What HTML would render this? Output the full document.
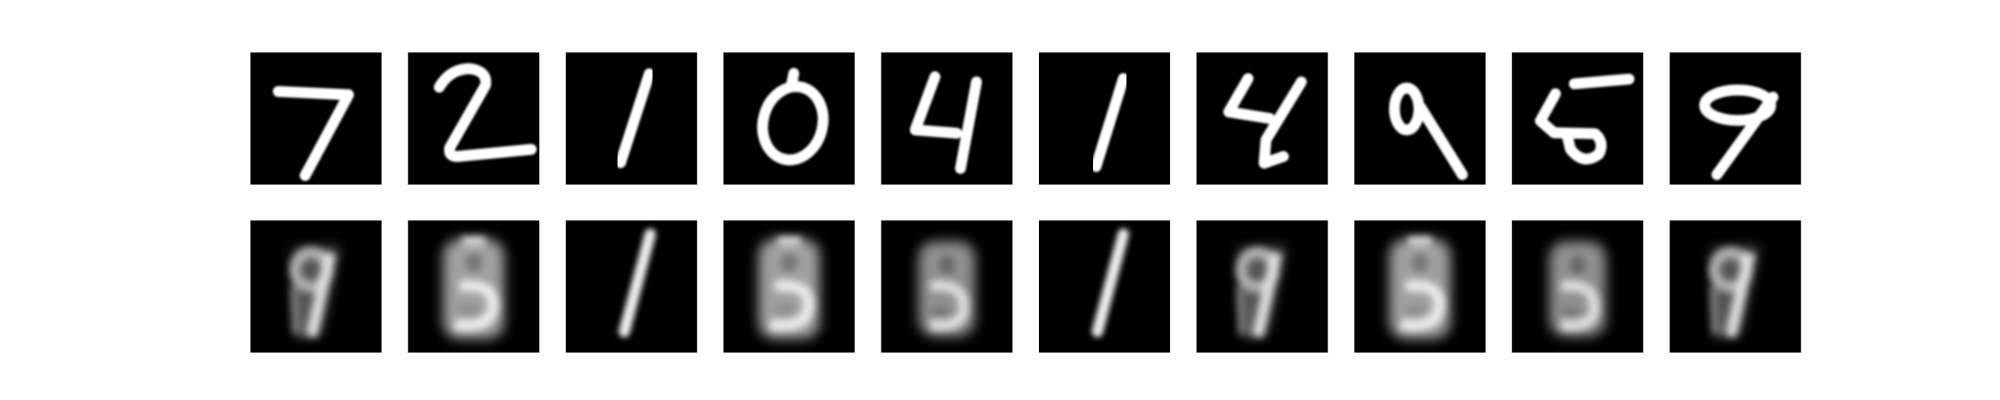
<!DOCTYPE html>
<html><head><meta charset="utf-8"><style>
html,body{margin:0;padding:0;background:#fff;}
svg{display:block;}
</style></head><body>
<svg id="fig" width="2000" height="400" viewBox="0 0 2000 400" xmlns="http://www.w3.org/2000/svg">
<defs>
<filter id="bl" x="-50%" y="-50%" width="200%" height="200%"><feGaussianBlur stdDeviation="1.3"/></filter>
<filter id="bl3" x="-50%" y="-50%" width="200%" height="200%"><feGaussianBlur stdDeviation="0.8"/></filter>
<filter id="bl2" x="-50%" y="-50%" width="200%" height="200%"><feGaussianBlur stdDeviation="0.6"/></filter>
<filter id="sh" x="-10%" y="-10%" width="120%" height="120%"><feGaussianBlur stdDeviation="0.25"/></filter>
</defs>
<g id="panels"></g>
</svg>
<script>
const originals = [
 '<path d="M6 8.3 L20.9 9 L11.7 26" />',
 '<path d="M6.7 7.4 Q9 3.5 13.2 3.5 Q17 4 16.5 7 L8.9 20.2 Q8.6 22 10.5 22 L26.2 20.5" />',
 '<path d="M17.8 4.6 L11.7 23.3" />',
 '<ellipse cx="14.8" cy="15" rx="6.3" ry="7.8" transform="rotate(15 14.8 15)"/><path d="M14.5 7 L15 4.5"/>',
 '<path d="M11.5 5.2 L7.3 16.4 L16.1 17.1 M20.3 6.3 L16.9 24.5" />',
 '<path d="M18 5.6 L12.2 24.1" />',
 '<path d="M11 5.6 L6.9 12.6 L15.6 14 M22.3 6.3 L14.8 18.5 L14.4 23.4 L18.5 22" />',
 '<ellipse cx="11.2" cy="12" rx="2.6" ry="4.4"/><path d="M14.2 11.7 L23 25.8" />',
 '<path d="M13.3 6.7 L24.9 5.7 M9.3 8.8 L6.1 14.5 L9 17 L17.7 17.2 Q19.8 19 18.5 21.5 Q15.3 24 12.5 20.5 L11.7 17.3" />',
 '<ellipse cx="14.5" cy="11.2" rx="7" ry="3.2"/><path d="M22 9.5 L10.1 25.8" />'
];
const nine = '<g filter="url(#bl)"><path d="M9 6 L19 5.5 L15 24 L10 25 Z" fill="#555"/></g><g filter="url(#bl3)"><ellipse cx="13" cy="10.5" rx="3.4" ry="3.6" fill="none" stroke="#b0b0b0" stroke-width="2.4"/><path d="M17 7 L13 24.5" stroke="#e0e0e0" stroke-width="2.4" fill="none"/><path d="M9.5 14 L10 24" stroke="#777" stroke-width="2" fill="none"/></g>';
const eight = '<g filter="url(#bl)"><rect x="7.5" y="4" width="13" height="21" rx="3.5" fill="#a0a0a0"/></g><g filter="url(#bl3)"><path d="M11.5 4.5 L16.5 4.5" stroke="#d8d8d8" stroke-width="2"/><ellipse cx="14" cy="9" rx="1.8" ry="2" fill="#777"/><path d="M11 14 Q19 13 18 19 Q17 23 10 22" stroke="#ececec" stroke-width="2.4" fill="none"/><ellipse cx="13" cy="19" rx="2.5" ry="1.2" fill="#909090"/></g>';
const five = '<g filter="url(#bl)"><rect x="8" y="4.5" width="12" height="20" rx="3.5" fill="#909090"/></g><g filter="url(#bl3)"><ellipse cx="14" cy="9.5" rx="1.6" ry="2" fill="#666"/><path d="M10.5 14 Q18 13 17.5 19 Q17 23 10.5 22" stroke="#e0e0e0" stroke-width="2.2" fill="none"/><ellipse cx="12.5" cy="19.5" rx="2.3" ry="1.1" fill="#777"/></g>';
const one = '<g filter="url(#bl2)"><path d="M18 3 L12.5 23.5" stroke="#eee" stroke-width="2.4" fill="none" stroke-linecap="round"/></g>';
const recon = [nine, eight, one, eight, five, one, nine, eight, five, nine];

const labels = ['7','2','1','0','4','1','4','9','5','9'];
const g = document.getElementById('panels');
const NS = 'http://www.w3.org/2000/svg';
for (let i = 0; i < 10; i++) {
  const x = 250 + 157.7 * i;
  for (let r = 0; r < 2; r++) {
    const s = document.createElementNS(NS, 'svg');
    s.setAttribute('x', x); s.setAttribute('y', r ? 220 : 52);
    s.setAttribute('width', 132); s.setAttribute('height', 133);
    s.setAttribute('viewBox', '0 0 28 28');
    s.setAttribute('preserveAspectRatio', 'none');
    
    
    let inner = '<rect x="0" y="0" width="28" height="28" fill="#000"/>';
    if (r === 0) inner += '<g fill="none" stroke="#fff" stroke-width="2.3" stroke-linecap="round" stroke-linejoin="round" filter="url(#sh)">' + originals[i] + '</g>';
    else inner += recon[i];
    inner += '<rect x="0.05" y="0.05" width="27.9" height="27.9" fill="none" stroke="#eee" stroke-width="0.1"/>';
    s.innerHTML = inner;
    g.appendChild(s);
  }
}
</script>
</body></html>
